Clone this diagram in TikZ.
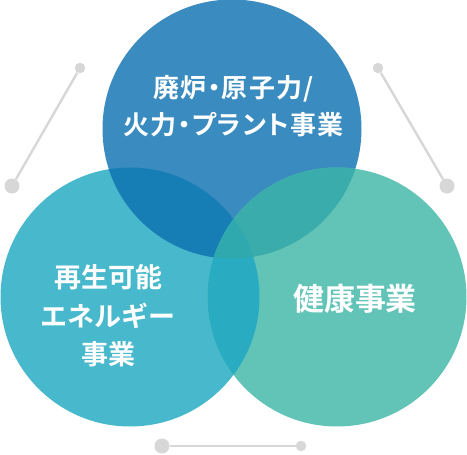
\documentclass[tikz,border=0pt]{standalone}
\usepackage{fontspec}
\newfontfamily\jpfont{Noto Sans CJK JP Bold}
\newfontfamily\jppalt{Noto Sans CJK JP Bold}[RawFeature=+palt, LetterSpace=5]
\usetikzlibrary{positioning}

\definecolor{topblue}{HTML}{3A8BBF}
\definecolor{leftcyan}{HTML}{48B8CC}
\definecolor{rightgreen}{HTML}{62C4B7}
\definecolor{tlmix}{HTML}{177DB5}
\definecolor{trmix}{HTML}{3AACAB}
\definecolor{lrmix}{HTML}{29ABC1}
\definecolor{allmix}{HTML}{30A9AE}
\definecolor{dotgray}{HTML}{D7D7D7}

\begin{document}
\begin{tikzpicture}[x=1pt, y=-1pt,
    dot/.style={circle, fill=dotgray, inner sep=0pt},
    bigdot/.style={dot, minimum size=15pt},
    smalldot/.style={dot, minimum size=10.5pt},
    link/.style={draw=dotgray, line width=2.4pt},
    lbl/.style={text=white, align=center, inner sep=0pt}
]
\useasboundingbox (0,0) rectangle (467,455);

% centres of the three fields
\coordinate (ctop) at (232,129);
\coordinate (cleft) at (130,297);
\coordinate (cright) at (337,297);
\def\rad{129.5pt}

% decoration: dots and links
\node[smalldot] (tlsmall) at (80,68) {};
\node[bigdot] (tlbig) at (12,186) {};
\node[smalldot] (trsmall) at (378,68) {};
\node[bigdot] (trbig) at (447,186) {};
\node[bigdot] (bbig) at (162,446) {};
\node[smalldot] (bsmall) at (301,446) {};
\draw[link] (tlsmall) -- (tlbig);
\draw[link] (trsmall) -- (trbig);
\draw[link] (bbig) -- (bsmall);

% circles
\fill[leftcyan] (cleft) circle[radius=\rad];
\fill[topblue] (ctop) circle[radius=\rad];
\fill[rightgreen] (cright) circle[radius=\rad];
\begin{scope}
  \clip (ctop) circle[radius=\rad];
  \fill[tlmix] (cleft) circle[radius=\rad];
  \fill[trmix] (cright) circle[radius=\rad];
\end{scope}
\begin{scope}
  \clip (cleft) circle[radius=\rad];
  \fill[lrmix] (cright) circle[radius=\rad];
\end{scope}
\begin{scope}
  \clip (ctop) circle[radius=\rad];
  \clip (cleft) circle[radius=\rad];
  \fill[allmix] (cright) circle[radius=\rad];
\end{scope}

% labels
\node[lbl, font=\jppalt\fontsize{26}{37}\selectfont] (toptxt) at (233.5,106) {廃炉・原子力/\\火力・プラント事業};
\node[lbl, font=\jpfont\fontsize{27}{38.5}\selectfont] (lefttxt) at (108.5,316) {再生可能\\エネルギー\\事業};
\node[lbl, font=\jpfont\fontsize{31}{36}\selectfont] (righttxt) at (355,299) {健康事業};
\end{tikzpicture}
\end{document}
